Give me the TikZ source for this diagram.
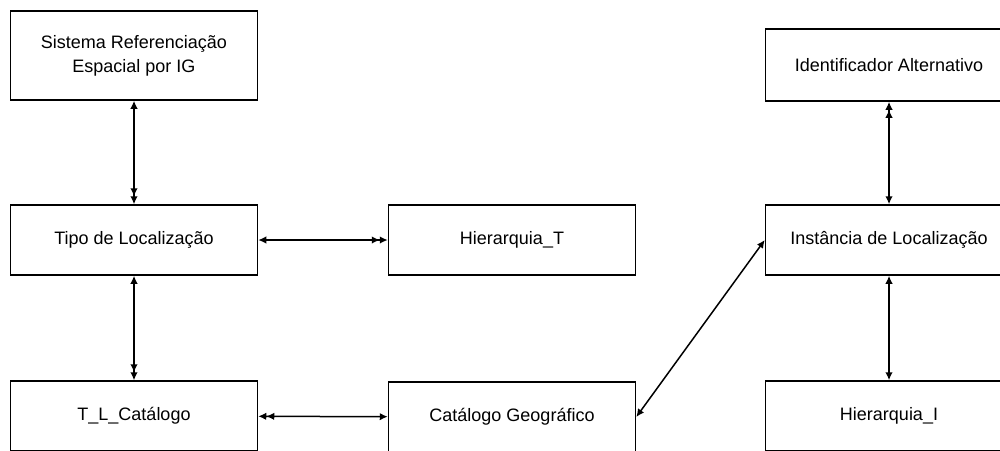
\documentclass[tikz,border=0pt]{standalone}
\usepackage{fontspec}
\setmainfont{Liberation Sans}
\usetikzlibrary{arrows.meta}
\begin{document}
\begin{tikzpicture}[x=1pt,y=1pt,
  box/.style={draw, line width=1.5pt, minimum width=247pt, minimum height=70pt,
    inner sep=0pt, align=center, font=\fontsize{18}{24}\selectfont},
  link/.style={line width=1.5pt},
  a11/.style={link, arrows={Latex[length=8pt,width=7.5pt]-Latex[length=8pt,width=7.5pt]}},
  a12/.style={link, arrows={Latex[length=8pt,width=7.5pt]-{Latex[length=8pt,width=7.5pt]Latex[length=8pt,width=7.5pt]}}},
  a21/.style={link, arrows={{Latex[length=8pt,width=7.5pt]Latex[length=8pt,width=7.5pt]}-Latex[length=8pt,width=7.5pt]}}]
\clip (0,0) rectangle (1000,-450);
\node[box, minimum height=89pt] (sis) at (134,-55.5) {Sistema Referenciação\\Espacial por IG};
\node[box] (tipo) at (134,-240) {Tipo de Localização};
\node[box] (tl) at (134,-416) {T\_L\_Catálogo};
\node[box] (ht) at (512,-240) {Hierarquia\_T};
\node[box] (cat) at (512,-417) {Catálogo Geográfico};
\node[box, minimum height=72pt] (ida) at (889,-65) {Identificador Alternativo};
\node[box] (inst) at (889,-240) {Instância de Localização};
\node[box] (hi) at (889,-416) {Hierarquia\_I};
\draw[a12] (sis) -- (tipo);
\draw[a12] (tipo) -- (tl);
\draw[a12] (tipo) -- (ht);
\draw[a21] (tl) -- (cat);
\draw[a11] (cat.east) -- (inst.west);
\draw[a21] (ida) -- (inst);
\draw[a11] (inst) -- (hi);
\end{tikzpicture}
\end{document}
